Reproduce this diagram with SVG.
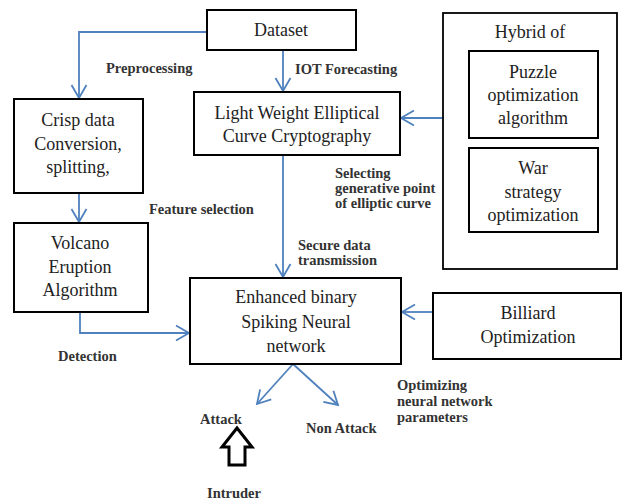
<svg xmlns="http://www.w3.org/2000/svg" width="623" height="500" viewBox="0 0 623 500">
<style>
.box{fill:#fff;stroke:#000;stroke-width:2}
.t{font-family:"Liberation Serif","Times New Roman",serif;font-size:18px;fill:#222;text-anchor:middle}
.l{font-family:"Liberation Serif","Times New Roman",serif;font-size:14.5px;font-weight:bold;fill:#333}
.c{fill:none;stroke:#4f81bd;stroke-width:1.8}
</style>
<defs>
<marker id="ah" markerUnits="userSpaceOnUse" markerWidth="20" markerHeight="20" viewBox="-15 -10 20 20" refX="0" refY="0" orient="auto">
<path d="M-13,-7.5 L0,0 L-13,7.5" fill="none" stroke="#4f81bd" stroke-width="1.8"/>
</marker>
</defs>
<rect width="623" height="500" fill="#fff"/>
<g id="connectors">
<path class="c" d="M207,32 H79 V98" marker-end="url(#ah)"/>
<path class="c" d="M283,50 V91" marker-end="url(#ah)"/>
<path class="c" d="M443,118 H401" marker-end="url(#ah)"/>
<path class="c" d="M79,193 V222" marker-end="url(#ah)"/>
<path class="c" d="M283,155 V277" marker-end="url(#ah)"/>
<path class="c" d="M80,312 V333 H189" marker-end="url(#ah)"/>
<path class="c" d="M433,312 H402" marker-end="url(#ah)"/>
<path class="c" d="M293,364 L257,404" marker-end="url(#ah)"/>
<path class="c" d="M293,364 L338,405" marker-end="url(#ah)"/>
</g>
<g id="dataset">
<rect class="box" x="207" y="10" width="149" height="40"/>
<text class="t" x="281" y="36">Dataset</text>
</g>
<g id="crisp">
<rect class="box" x="14" y="99" width="129" height="94"/>
<text class="t" x="78" y="126">Crisp data</text>
<text class="t" x="78" y="150">Conversion,</text>
<text class="t" x="78" y="173">splitting,</text>
</g>
<g id="lwecc">
<rect class="box" x="194" y="92" width="206" height="63"/>
<text class="t" x="297" y="119">Light Weight Elliptical</text>
<text class="t" x="297" y="142">Curve Cryptography</text>
</g>
<g id="hybrid">
<rect class="box" x="443" y="13" width="174" height="256" style="stroke-width:1.8"/>
<text class="t" x="530" y="38">Hybrid of</text>
</g>
<g id="puzzle">
<rect class="box" x="469" y="51" width="129" height="87"/>
<text class="t" x="533" y="78">Puzzle</text>
<text class="t" x="533" y="101">optimization</text>
<text class="t" x="533" y="124">algorithm</text>
</g>
<g id="war">
<rect class="box" x="469" y="148" width="129" height="84"/>
<text class="t" x="533" y="174">War</text>
<text class="t" x="533" y="198">strategy</text>
<text class="t" x="533" y="221">optimization</text>
</g>
<g id="volcano">
<rect class="box" x="14" y="223" width="134" height="89"/>
<text class="t" x="80" y="249">Volcano</text>
<text class="t" x="80" y="273">Eruption</text>
<text class="t" x="80" y="296">Algorithm</text>
</g>
<g id="esnn">
<rect class="box" x="190" y="278" width="211" height="86"/>
<text class="t" x="296" y="303">Enhanced binary</text>
<text class="t" x="296" y="328">Spiking Neural</text>
<text class="t" x="296" y="352">network</text>
</g>
<g id="billiard">
<rect class="box" x="433" y="293" width="188" height="66"/>
<text class="t" x="528" y="319">Billiard</text>
<text class="t" x="528" y="343">Optimization</text>
</g>
<g id="intruder-arrow">
<polygon points="237,428 252,447 245,447 245,465 229,465 229,447 222,447" fill="#fff" stroke="#000" stroke-width="3" stroke-linejoin="miter"/>
</g>
<g id="labels">
<text class="l" x="106" y="73">Preprocessing</text>
<text class="l" x="295" y="74">IOT Forecasting</text>
<text class="l" x="335" y="178">Selecting</text>
<text class="l" x="335" y="193">generative point</text>
<text class="l" x="335" y="208">of elliptic curve</text>
<text class="l" x="149" y="214">Feature selection</text>
<text class="l" x="298" y="250">Secure data</text>
<text class="l" x="298" y="265">transmission</text>
<text class="l" x="58" y="361">Detection</text>
<text class="l" x="397" y="390">Optimizing</text>
<text class="l" x="397" y="406">neural network</text>
<text class="l" x="397" y="422">parameters</text>
<text class="l" x="200" y="424">Attack</text>
<text class="l" x="306" y="433">Non Attack</text>
<text class="l" x="207" y="498">Intruder</text>
</g>
</svg>
